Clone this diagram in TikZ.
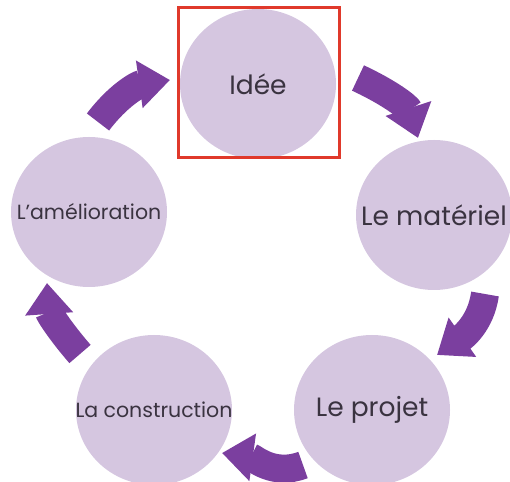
\documentclass[tikz,border=0pt]{standalone}
\usepackage{fontspec}
\setmainfont{Poppins}
\usetikzlibrary{arrows.meta,shapes.geometric}
\definecolor{arrowpurple}{HTML}{7B3F9F}
\definecolor{bubblefill}{HTML}{D5C6E0}
\definecolor{framered}{HTML}{E0392B}
\definecolor{txt}{HTML}{3A3340}
\newcommand{\zerowidthtext}[1]{\makebox[0pt][c]{#1}}
\begin{document}
\begin{tikzpicture}[x=1pt,y=1pt,
  bubble/.style={ellipse, fill=bubblefill, minimum width=156pt, minimum height=150pt, inner sep=0pt, text=txt},
  bigtext/.style={font=\fontsize{26.5}{30}\selectfont},
  smalltext/.style={font=\fontsize{20.5}{24}\selectfont},
  cyclearrow/.style={draw=arrowpurple, line width=28pt, -{Triangle[length=31pt,width=46pt]}}]
\useasboundingbox (0,0) rectangle (510,481);
\node[bubble, bigtext] (idee) at (258,397) {\zerowidthtext{Idée}};
\node[bubble, bigtext] (materiel) at (434,266) {\zerowidthtext{Le matériel}};
\node[bubble, bigtext] (projet) at (372,71) {\zerowidthtext{Le projet}};
\node[bubble, smalltext] (construction) at (154,71) {\zerowidthtext{La construction}};
\node[bubble, smalltext] (amelioration) at (89,269) {\zerowidthtext{L’amélioration}};
\node[draw=framered, line width=3pt, minimum width=161pt, minimum height=150pt, inner sep=0pt] (frame) at (258.5,398) {};
\coordinate (a1s) at (358,403); \coordinate (a1e) at (418,343);
\coordinate (a2s) at (485,187); \coordinate (a2e) at (437,126);
\coordinate (a3s) at (303,16);  \coordinate (a3e) at (222,28);
\coordinate (a4s) at (80,127);  \coordinate (a4e) at (47,198);
\coordinate (a5s) at (98,359);  \coordinate (a5e) at (170,401);
\draw[cyclearrow] (a1s) to[out=-25, in=108] (a1e);
\draw[cyclearrow] (a2s) to[out=-98, in=35] (a2e);
\draw[cyclearrow] (a3s) to[out=201, in=-8] (a3e);
\draw[cyclearrow] (a4s) to[out=131, in=-86] (a4e);
\draw[cyclearrow] (a5s) to[out=53, in=188] (a5e);
\end{tikzpicture}
\end{document}
